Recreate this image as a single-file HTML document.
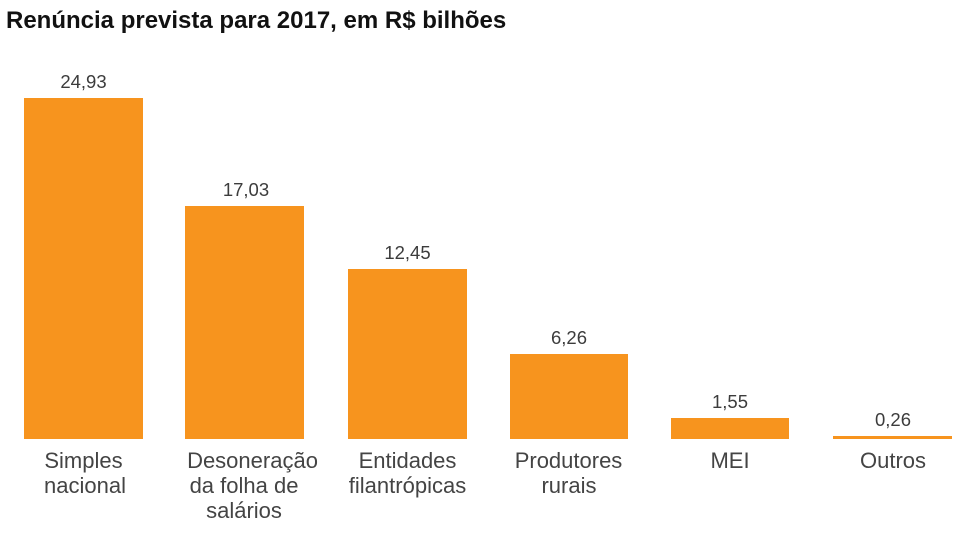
<!DOCTYPE html>
<html><head><meta charset="utf-8"><style>
html,body{margin:0;padding:0;background:#fff;}
svg{display:block;}
.t{font-family:"Liberation Sans",Arial,sans-serif;font-weight:bold;font-size:24px;fill:#111;}
.v{font-family:"Liberation Sans",Arial,sans-serif;font-size:18.5px;fill:#3c3c3c;text-anchor:middle;}
.c{font-family:"Liberation Sans",Arial,sans-serif;font-size:22px;fill:#444;text-anchor:middle;}
</style></head><body>
<svg width="960" height="535" viewBox="0 0 960 535" xmlns="http://www.w3.org/2000/svg">
<rect width="960" height="535" fill="#fff"/>
<text class="t" x="6" y="28">Renúncia prevista para 2017, em R$ bilhões</text>
<g fill="#F7941E">
<rect x="24" y="98" width="119" height="341"/>
<rect x="185" y="206" width="119" height="233"/>
<rect x="348" y="269" width="119" height="170"/>
<rect x="510" y="354" width="118" height="85"/>
<rect x="671" y="418" width="118" height="21"/>
<rect x="833" y="436" width="119" height="3"/>
</g>
<text class="v" x="83.5" y="88">24,93</text>
<text class="v" x="246" y="196">17,03</text>
<text class="v" x="407.5" y="259">12,45</text>
<text class="v" x="569" y="344">6,26</text>
<text class="v" x="730" y="408">1,55</text>
<text class="v" x="893" y="426">0,26</text>
<text class="c" x="83.5" y="468">Simples</text>
<text class="c" x="85" y="493">nacional</text>
<text class="c" x="252.5" y="468">Desoneração</text>
<text class="c" x="244" y="493">da folha de</text>
<text class="c" x="244" y="518">salários</text>
<text class="c" x="407.5" y="468">Entidades</text>
<text class="c" x="407.5" y="493">filantrópicas</text>
<text class="c" x="568.5" y="468">Produtores</text>
<text class="c" x="569" y="493">rurais</text>
<text class="c" x="730" y="468">MEI</text>
<text class="c" x="893" y="468">Outros</text>
</svg>
</body></html>
